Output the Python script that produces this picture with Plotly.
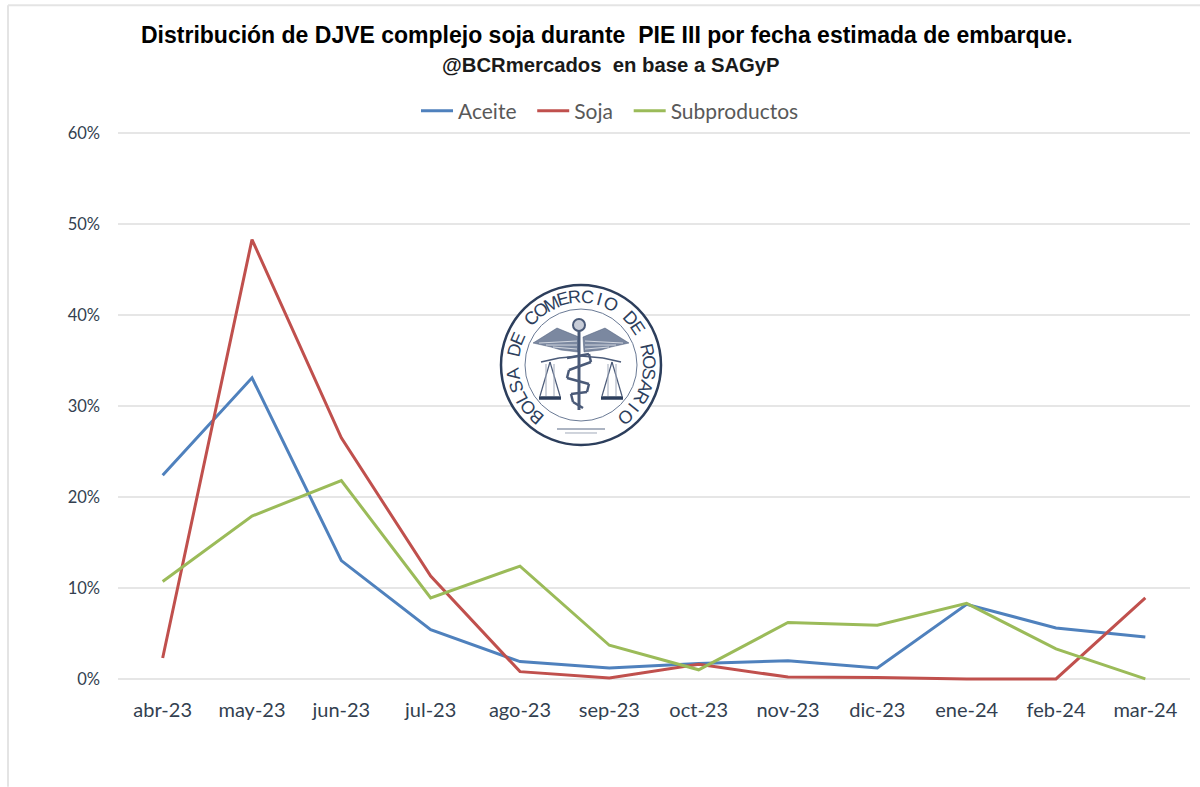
import math
import plotly.graph_objects as go

categories = ["abr-23","may-23","jun-23","jul-23","ago-23","sep-23","oct-23","nov-23","dic-23","ene-24","feb-24","mar-24"]
aceite = [22.4,33.1,13.0,5.4,1.9,1.2,1.7,2.0,1.2,8.2,5.6,4.6]
soja = [2.3,48.3,26.5,11.3,0.8,0.1,1.6,0.2,0.15,0.0,0.0,8.9]
subproductos = [10.7,17.9,21.8,8.9,12.4,3.7,1.0,6.2,5.9,8.3,3.3,0.0]
y_ticks = [0,10,20,30,40,50,60]
y_labels = ["0%","10%","20%","30%","40%","50%","60%"]
title1 = "Distribución de DJVE complejo soja durante  PIE III por fecha estimada de embarque."
title2 = "@BCRmercados  en base a SAGyP"
seal_text = "BOLSA DE COMERCIO DE ROSARIO"

W, H = 1200, 787
PAD = 9.1  # plot area extends one axis unit past 0 and 60 so the edge gridlines are drawn
L, R, T, B = 118, 1190, 133 - PAD, 679 + PAD
NAVY = "#2c3e5c"
MID = "#4a5a78"

def px(x): return (x - L) / (R - L)
def py(y): return (B - y) / (B - T)

fig = go.Figure()
for name, vals, col in [("Aceite\u00a0\u00a0", aceite, "#4F81BD"), ("Soja\u00a0\u00a0", soja, "#C0504D"), ("Subproductos", subproductos, "#9BBB59")]:
    fig.add_trace(go.Scatter(x=categories, y=vals, name=name, mode="lines",
                             line=dict(color=col, width=3, shape="linear"), cliponaxis=False))

shapes = []
annos = []

def line(x0, y0, x1, y1, color="#e4e4e4", width=2, layer="below"):
    shapes.append(dict(type="line", xref="paper", yref="paper", x0=px(x0), y0=py(y0), x1=px(x1), y1=py(y1),
                       line=dict(color=color, width=width), layer=layer))

def circle(cx, cy, r, color=NAVY, width=2, fill="rgba(0,0,0,0)"):
    shapes.append(dict(type="circle", xref="paper", yref="paper", x0=px(cx-r), x1=px(cx+r), y0=py(cy+r), y1=py(cy-r),
                       line=dict(color=color, width=width), fillcolor=fill, layer="above"))

def poly(points, fill, color=None, width=0):
    d = "M " + " L ".join("%.5f,%.5f" % (px(a), py(b)) for a, b in points) + " Z"
    shapes.append(dict(type="path", xref="paper", yref="paper", path=d, fillcolor=fill,
                       line=dict(color=color or fill, width=width), layer="above"))

# page frame
line(8, 5, 1200, 5)
line(8, 5, 8, 787)

# seal
CX, CY = 581, 365
circle(CX, CY, 80, NAVY, 2.5, "white")
circle(CX, CY, 56, "#6a7a95", 1)
n = len(seal_text)
start, end = 221, 499
for i, ch in enumerate(seal_text):
    a = start + (end - start) * i / (n - 1)
    rad = math.radians(a)
    x = CX + 68 * math.sin(rad)
    y = CY - 68 * math.cos(rad)
    annos.append(dict(text=ch, x=px(x), y=py(y), xref="paper", yref="paper", showarrow=False,
                      textangle=a if a <= 360 else a - 360, xanchor="center", yanchor="middle",
                      font=dict(family="Liberation Sans", size=18, color=NAVY)))
# wings
for s in (-1, 1):
    poly([(CX + s*2, 337), (CX + s*24, 328), (CX + s*48, 343), (CX + s*30, 347), (CX + s*20, 350), (CX + s*3, 352)],
         "#7b88a0", MID, 0.5)
    for k in range(3):
        line(CX + s*4, 341 + k*4, CX + s*(42 - k*7), 343 + k*2, "#e8ebf0", 0.8, "above")
# staff
line(CX - 2, 325, CX - 2, 410, MID, 3, "above")
circle(CX - 2, 325, 6, MID, 2, "#c8cdd8")
# beam and scales
for s in (-1, 1):
    pan = CX + s*31
    line(CX, 356, CX + s*22, 358, MID, 1.5, "above")
    line(CX + s*22, 358, CX + s*40, 362, MID, 1.5, "above")
    line(pan, 362, pan - 10, 396, MID, 1.2, "above")
    line(pan, 362, pan + 10, 396, MID, 1.2, "above")
    line(pan - 4, 364, pan - 4, 396, "#a0a9ba", 1, "above")
    line(pan + 4, 364, pan + 4, 396, "#a0a9ba", 1, "above")
    line(pan - 11, 398, pan + 11, 398, NAVY, 3.5, "above")
# serpent
snake = [(-12,358),(10,354),(12,362),(-10,370),(-12,378),(10,384),(8,392),(-8,394),(-6,402),(4,408)]
for (a, b), (c, d) in zip(snake, snake[1:]):
    line(CX - 2 + a, b, CX - 2 + c, d, MID, 2.5, "above")
line(557, 429, 605, 429, "#5a6a85", 1.2, "above")
line(565, 433, 597, 433, "#a0a9ba", 1, "above")

# titles
annos.append(dict(text="<b>%s</b>" % title1, x=px(607), y=py(35), xref="paper", yref="paper", showarrow=False,
                  xanchor="center", yanchor="middle",
                  font=dict(family="Liberation Sans", size=23, color="#000000")))
annos.append(dict(text="<b>%s</b>" % title2, x=px(611), y=py(65), xref="paper", yref="paper", showarrow=False,
                  xanchor="center", yanchor="middle",
                  font=dict(family="Liberation Sans", size=20.3, color="#1a1a1a")))

fig.update_layout(
    width=W, height=H, autosize=False,
    margin=dict(l=L, r=W-R, t=T, b=H-B, pad=0),
    paper_bgcolor="white", plot_bgcolor="white",
    font=dict(family="Lato", size=17, color="#404040"),
    showlegend=True,
    legend=dict(orientation="h", x=px(610), y=py(111), xanchor="center", yanchor="middle",
                font=dict(family="Lato", size=21, color="#595959"), itemwidth=32, tracegroupgap=0,
                bgcolor="rgba(0,0,0,0)"),
    shapes=shapes, annotations=annos,
    xaxis=dict(type="category", categoryorder="array", categoryarray=categories, range=[-0.5, 11.5],
               showgrid=False, zeroline=False, showline=False, ticks="", ticklabelstandoff=8,
               tickfont=dict(family="Lato", size=20, color="#333f50")),
    yaxis=dict(range=[-1, 61], tickvals=y_ticks, ticktext=y_labels, showgrid=True, gridcolor="#e6e6e6", gridwidth=1.5,
               zeroline=False, showline=False, ticks="", ticklabelstandoff=17,
               tickfont=dict(family="Lato", size=16.5, color="#333f50")),
)
fig.write_html("out.html", config=dict(displayModeBar=False),
               post_script="document.body.style.margin='0';document.body.style.overflow='hidden';")
